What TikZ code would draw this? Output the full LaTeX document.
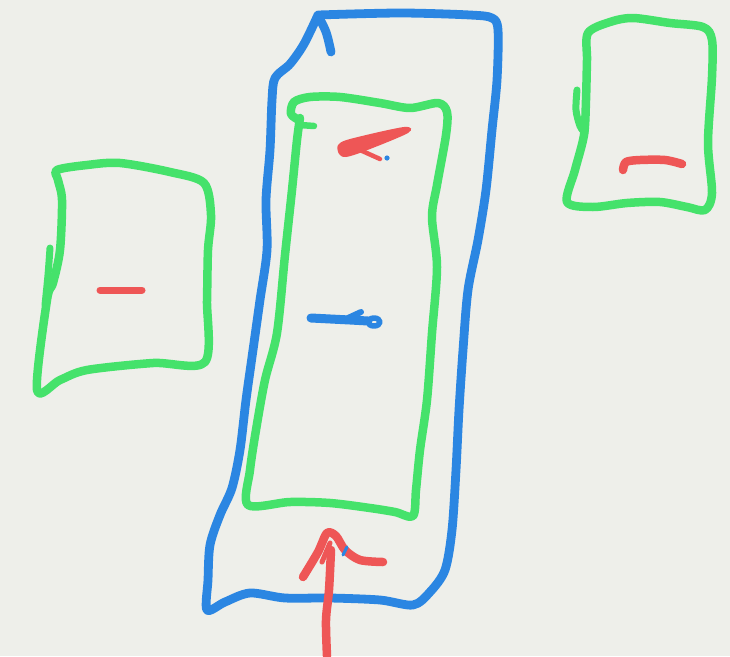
\documentclass[tikz,border=0pt]{standalone}
\begin{document}
\begin{tikzpicture}[x=1pt,y=-1pt,
  line cap=round, line join=round,
  bluepen/.style={draw=skblue, line width=8.8pt},
  greenpen/.style={draw=skgreen, line width=8.5pt},
  redpen/.style={draw=skred, line width=8.5pt}]
\definecolor{skbg}{HTML}{EEEFEA}
\definecolor{skblue}{HTML}{2B86E2}
\definecolor{skgreen}{HTML}{45E26B}
\definecolor{skred}{HTML}{EE5656}
\fill[skbg] (0,0) rectangle (730,656);
\useasboundingbox (0,0) rectangle (730,656);
% outer blue outline
\draw[bluepen] plot[smooth, tension=0.5] coordinates {
 (318,15) (400,13) (470,15) (492,18) (498,30) (497,80) (492,130) (486,190)
 (478,240) (468,290) (463,350) (459,410) (456,470) (452,530) (445,570)
 (430,592) (413,605) (380,600) (330,598) (285,598) (250,593) (225,602)
 (207,610) (208,580) (210,545) (220,515) (232,488) (240,450) (246,400)
 (253,350) (260,300) (267,250) (266,200) (270,150) (272,100) (275,78)
 (290,64) (304,44) (318,15)};
\draw[bluepen] plot[smooth, tension=0.6] coordinates {(318,16) (326,32) (331,52)};
% inner green rectangle
\draw[greenpen] plot[smooth, tension=0.5] coordinates {
 (299,120) (291,114) (294,102) (310,97) (340,97) (380,103) (410,108)
 (438,103) (447,112) (446,135) (437,185) (432,217) (437,267) (432,333)
 (427,400) (420,450) (416,490) (413,516) (395,512) (370,508) (330,503)
 (290,502) (248,505) (250,470) (256,430) (265,380) (277,333) (285,255)
 (292,190) (297,140) (300,118)};
\draw[greenpen, line width=6.5pt] (300,125) -- (314,126);
% red mark at top of inner box
\fill[skred] plot[smooth cycle, tension=0.5] coordinates {
 (338,145) (350,139) (404,127) (408,133) (365,151) (346,157) (339,154)};
\draw[redpen, line width=4.5pt] (360,150) -- (380,159);
\fill[skblue] (387,158) circle (2.6);
% blue mark in middle
\draw[bluepen, line width=9pt] (311,318) -- (350,320) -- (368,321);
\draw[bluepen, line width=6pt] (348,318) -- (361,312);
\draw[bluepen, line width=5.5pt] (374,322) ellipse (6 and 4);
% left green box
\draw[greenpen] plot[smooth cycle, tension=0.5] coordinates {
 (57,170) (87,165) (120,163) (170,172) (204,183) (211,215) (208,250)
 (207,300) (205,362) (153,363) (87,370) (60,380) (37,390) (47,300)
 (53,283) (60,250) (62,200) (58,180)};
\draw[greenpen, line width=7pt] plot[smooth] coordinates {(50,248) (48,275) (45,305)};
\draw[redpen, line width=7pt] (100,290) -- (142,290);
% right green box
\draw[greenpen] plot[smooth cycle, tension=0.5] coordinates {
 (588,33) (610,22) (633,18) (670,23) (703,27) (712,40) (712,77) (708,143)
 (712,193) (705,210) (687,207) (660,202) (627,203) (593,207) (567,202)
 (575,170) (584,135) (586,100) (587,60)};
\draw[greenpen, line width=7pt] plot[smooth] coordinates {(577,90) (576,110) (580,126) (585,133)};
\draw[redpen] plot[smooth, tension=0.5] coordinates {(623,170) (626,162) (640,160) (665,160) (682,164)};
% red arrow at bottom
\draw[redpen] plot[smooth] coordinates {(327,656) (326,620) (329,590) (331,550)};
\draw[redpen] plot[smooth, tension=0.5] coordinates {(303,577) (318,552) (327,533) (336,536) (345,550) (360,560) (383,562)};
\draw[redpen, line width=5pt] (322,562) -- (330,543);
\draw[bluepen, line width=3pt] (343,555) -- (347,547);
\end{tikzpicture}
\end{document}
